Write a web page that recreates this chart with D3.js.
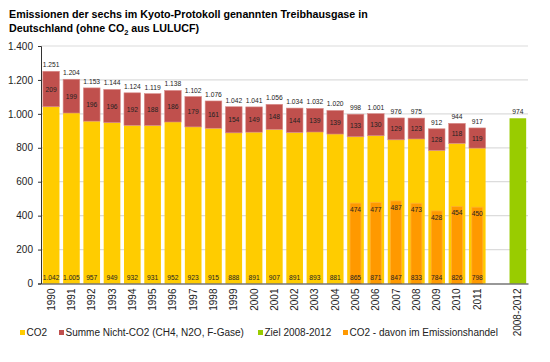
<!DOCTYPE html>
<html>
<head>
<meta charset="utf-8">
<script src="https://cdn.jsdelivr.net/npm/d3@7"></script>
<style>
  body { margin: 0; background: #fff; }
  svg text { font-family: "Liberation Sans", Arial, sans-serif; }
</style>
</head>
<body>
<div id="chart"></div>
<script>
const years = ["1990", "1991", "1992", "1993", "1994", "1995", "1996", "1997", "1998", "1999", "2000",
  "2001", "2002", "2003", "2004", "2005", "2006", "2007", "2008", "2009", "2010", "2011"];
const co2 = [1042, 1005, 957, 949, 932, 931, 952, 923, 915, 888, 891, 907, 891, 893, 881, 865, 871, 847, 833, 784, 826, 798];
const nonCo2 = [209, 199, 196, 196, 192, 188, 186, 179, 161, 154, 149, 148, 144, 139, 139, 133, 130, 129, 123, 128, 118, 119];
const totals = [1251, 1204, 1153, 1144, 1124, 1119, 1138, 1102, 1076, 1042, 1041, 1056, 1034, 1032, 1020, 998, 1001, 976, 975, 912, 944, 917];
const tradingYears = ["2005", "2006", "2007", "2008", "2009", "2010", "2011"];
const trading = [474, 477, 487, 473, 428, 454, 450];
const targetLabel = "2008-2012";
const target = 974;
const yTicks = [0, 200, 400, 600, 800, 1000, 1200, 1400];

const width = 550, height = 362;
const margin = { top: 46, right: 22, bottom: 78.5, left: 41 };

const colors = {
  co2: "#FFCC00",
  nonCo2: "#C0504D",
  target: "#99CC00",
  trading: "#FF9900"
};

const de = d3.formatLocale({ decimal: ",", thousands: ".", grouping: [3], currency: ["", " €"] });
const fmt = de.format(",d");

const svg = d3.select("#chart")
  .append("svg")
  .attr("width", width)
  .attr("height", height);

// title
const title = svg.append("text")
  .attr("x", 9)
  .attr("y", 17.5)
  .style("font-size", "10.7px")
  .style("font-weight", "bold")
  .attr("fill", "#000");
title.append("tspan").text("Emissionen der sechs im Kyoto-Protokoll genannten Treibhausgase in");
const l2 = title.append("tspan").attr("x", 9).attr("dy", 14.5).text("Deutschland (ohne CO");
l2.append("tspan").attr("dy", 3).style("font-size", "7.5px").text("2");
l2.append("tspan").attr("dy", -3).text(" aus LULUCF)");

const innerWidth = width - margin.left - margin.right;
const innerHeight = height - margin.top - margin.bottom;

const g = svg.append("g")
  .attr("transform", "translate(" + margin.left + "," + margin.top + ")");

const cats = years.concat(["", targetLabel]);

const x = d3.scaleBand()
  .domain(cats)
  .range([0, innerWidth])
  .paddingInner(0.18)
  .paddingOuter(0.09);

const y = d3.scaleLinear()
  .domain([0, 1400])
  .range([innerHeight, 0]);

// gridlines
g.selectAll(".grid")
  .data(yTicks.slice(1))
  .enter()
  .append("line")
  .attr("x1", 0)
  .attr("x2", innerWidth)
  .attr("y1", (d) => y(d))
  .attr("y2", (d) => y(d))
  .attr("stroke", "#dcdcdc")
  .attr("stroke-width", 1.2);

// y axis
const yAxis = g.append("g")
  .call(d3.axisLeft(y).tickValues(yTicks).tickSize(3).tickFormat(fmt));
yAxis.select(".domain").attr("stroke", "#333");
yAxis.selectAll(".tick line").attr("stroke", "#333");
yAxis.selectAll("text")
  .attr("x", -8)
  .style("font-size", "10px")
  .attr("fill", "#222");

const rows = years.map((yr, i) => ({
  year: yr,
  co2: co2[i],
  nonCo2: nonCo2[i],
  total: totals[i]
}));

const bw = x.bandwidth();

// co2 segment (below the non-CO2 part)
g.selectAll(".co2")
  .data(rows)
  .enter()
  .append("rect")
  .attr("x", (d) => x(d.year))
  .attr("width", bw)
  .attr("y", (d) => y(d.total - d.nonCo2))
  .attr("height", (d) => innerHeight - y(d.total - d.nonCo2))
  .attr("fill", colors.co2);

// non-CO2 segment
g.selectAll(".nonco2")
  .data(rows)
  .enter()
  .append("rect")
  .attr("x", (d) => x(d.year))
  .attr("width", bw)
  .attr("y", (d) => y(d.total))
  .attr("height", (d) => y(d.total - d.nonCo2) - y(d.total))
  .attr("fill", colors.nonCo2)
  .attr("stroke", "#d98c8a")
  .attr("stroke-width", 0.6);

// emissions trading part
const tw = bw * 0.66;
const tRows = tradingYears.map((yr, i) => ({ year: yr, value: trading[i] }));
g.selectAll(".trading")
  .data(tRows)
  .enter()
  .append("rect")
  .attr("x", (d) => x(d.year) + (bw - tw) / 2)
  .attr("width", tw)
  .attr("y", (d) => y(d.value))
  .attr("height", (d) => innerHeight - y(d.value))
  .attr("fill", colors.trading)
  .attr("stroke", "#FFB030")
  .attr("stroke-width", 0.8);

// target bar
g.append("rect")
  .attr("x", x(targetLabel))
  .attr("width", bw)
  .attr("y", y(target))
  .attr("height", innerHeight - y(target))
  .attr("fill", colors.target);

// x axis
const xAxis = g.append("g")
  .attr("transform", "translate(0," + innerHeight + ")")
  .call(d3.axisBottom(x).tickSize(0));
xAxis.select(".domain").attr("stroke", "#333").attr("stroke-width", 1.2);
xAxis.selectAll("text")
  .attr("transform", "rotate(-90)")
  .attr("x", -5)
  .attr("y", 0)
  .attr("dy", "0.35em")
  .style("text-anchor", "end")
  .style("font-size", "10px")
  .attr("fill", "#222");

// value labels
const lab = (sel) => sel
  .attr("text-anchor", "middle")
  .style("font-size", "6.7px")
  .attr("fill", "#222");

g.selectAll(".totLab")
  .data(rows)
  .enter()
  .append("text")
  .call(lab)
  .attr("x", (d) => x(d.year) + bw / 2)
  .attr("y", (d) => y(d.total) - 4)
  .text((d) => fmt(d.total));

g.selectAll(".nonLab")
  .data(rows)
  .enter()
  .append("text")
  .call(lab)
  .attr("x", (d) => x(d.year) + bw / 2)
  .attr("y", (d) => (y(d.total) + y(d.total - d.nonCo2)) / 2 + 2.5)
  .text((d) => fmt(d.nonCo2));

g.selectAll(".co2Lab")
  .data(rows)
  .enter()
  .append("text")
  .call(lab)
  .attr("x", (d) => x(d.year) + bw / 2)
  .attr("y", innerHeight - 4)
  .text((d) => fmt(d.co2));

g.selectAll(".trLab")
  .data(tRows)
  .enter()
  .append("text")
  .call(lab)
  .attr("x", (d) => x(d.year) + bw / 2)
  .attr("y", (d) => y(d.value) + 9)
  .text((d) => fmt(d.value));

g.append("text")
  .call(lab)
  .attr("x", x(targetLabel) + bw / 2)
  .attr("y", y(target) - 4)
  .text(fmt(target));

// legend
const legendItems = [
  { label: "CO2", color: colors.co2, x: 20 },
  { label: "Summe Nicht-CO2 (CH4, N2O, F-Gase)", color: colors.nonCo2, x: 59 },
  { label: "Ziel 2008-2012", color: colors.target, x: 258 },
  { label: "CO2 - davon im Emissionshandel", color: colors.trading, x: 343 }
];

const legend = svg.append("g")
  .attr("transform", "translate(0,329)");

legendItems.forEach((k) => {
  const row = legend.append("g")
    .attr("transform", "translate(" + k.x + ",0)");

  row.append("rect")
    .attr("width", 5)
    .attr("height", 5)
    .attr("y", 1)
    .attr("fill", k.color);

  row.append("text")
    .attr("x", 6.5)
    .attr("y", 6.5)
    .style("font-size", "10px")
    .attr("fill", "#222")
    .text(k.label);
});
</script>
</body>
</html>
